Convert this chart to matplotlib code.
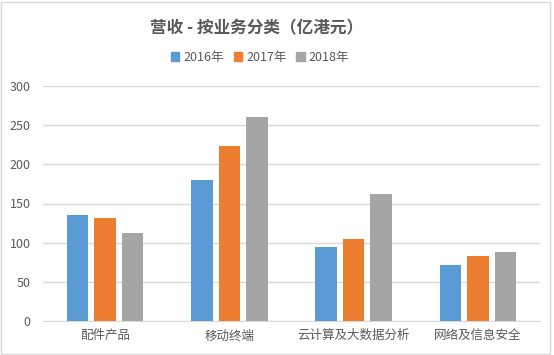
import numpy as np
import matplotlib
matplotlib.use("Agg")
import matplotlib.pyplot as plt
from matplotlib.patches import Rectangle, Patch

plt.rcParams['font.family'] = ['Noto Sans CJK SC', 'DejaVu Sans']

categories = ["配件产品", "移动终端", "云计算及大数据分析", "网络及信息安全"]
years = ["2016年", "2017年", "2018年"]
values_2016 = [135, 180, 94, 71]
values_2017 = [132, 223, 105, 83]
values_2018 = [112, 261, 162, 88]
colors = ["#5B9BD5", "#ED7D31", "#A5A5A5"]

W, H = 554, 355
fig = plt.figure(figsize=(W / 100, H / 100), dpi=100)
ax = fig.add_axes([43 / W, 34 / H, 497 / W, 235 / H])

x = np.arange(len(categories))
width = 0.173
step = 0.222
series = [values_2016, values_2017, values_2018]
for i, vals in enumerate(series):
    ax.bar(x + (i - 1) * step, vals, width, color=colors[i], zorder=3)

ax.set_xlim(-0.5, len(categories) - 0.5)
ax.set_ylim(0, 300)
ax.set_yticks(range(0, 301, 50))
ax.set_xticks(x)
ax.set_xticklabels(categories)
ax.grid(axis="y", color="#D9D9D9", linewidth=1, zorder=0)
for s in ["top", "right", "left"]:
    ax.spines[s].set_visible(False)
ax.spines["bottom"].set_color("#D9D9D9")
ax.tick_params(axis="both", length=0, colors="#595959", labelsize=9)
ax.tick_params(axis="y", pad=9)
ax.tick_params(axis="x", pad=6)

fig.text(257 / W, 1 - 28 / H, "营收 - 按业务分类（亿港元）", ha="center", va="center",
         fontsize=12, fontweight="bold", color="#595959")

handles = [Patch(color=c) for c in colors]
fig.legend(handles, years, loc="center", bbox_to_anchor=(260 / W, 1 - 57 / H),
           ncol=3, frameon=False, fontsize=9, handlelength=0.7, handleheight=0.7,
           handletextpad=0.3, columnspacing=0.8, labelcolor="#595959")

fig.patches.append(Rectangle((1 / W, 1 / H), 549 / W, 352 / H, transform=fig.transFigure,
                             fill=False, edgecolor="#D9D9D9", linewidth=1))

fig.savefig("out.png", dpi=100)
